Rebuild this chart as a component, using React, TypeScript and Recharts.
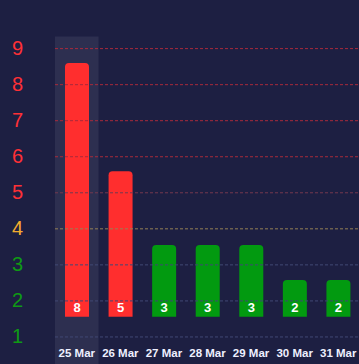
import React from "react";
import { BarChart, Bar, XAxis, YAxis, Tooltip, Cell, LabelList, ReferenceLine } from "recharts";

const days = ["25 Mar", "26 Mar", "27 Mar", "28 Mar", "29 Mar", "30 Mar", "31 Mar"];
const counts = [8, 5, 3, 3, 3, 2, 2];
const barTops = [8.6, 5.6, 3.55, 3.55, 3.55, 2.58, 2.58];
const barBases = [1.56, 1.56, 1.56, 1.56, 1.56, 1.56, 1.56];
const yTicks = [0, 1, 2, 3, 4, 5, 6, 7, 8, 9];

const RED = "#ff2e2e";
const GREEN = "#029a10";

const tickColor = (v: number) => (v >= 5 ? "#ff3036" : v === 4 ? "#f2ac2e" : "#0f9a14");
const gridColor = (v: number) =>
  v >= 6 ? "#a82a3c" : v === 5 ? "#74384f" : v === 4 ? "#958055" : "#414874";

const data = days.map((day, i) => ({
  day,
  count: counts[i],
  range: [barBases[i], barTops[i]],
}));

const YTick = (props: any) => {
  const v = Number(props.payload?.value);
  return (
    <text
      x={props.x}
      y={props.y + 6}
      textAnchor="end"
      fill={tickColor(v)}
      fontSize={20}
      fontFamily="Liberation Sans, Arial, sans-serif"
    >
      {v}
    </text>
  );
};

const XTick = (props: any) => (
  <text
    x={props.x}
    y={props.y - 16}
    textAnchor="middle"
    fill="#eef0ff"
    fontSize={11.5}
    fontWeight="bold"
    fontFamily="Liberation Sans, Arial, sans-serif"
  >
    {props.payload?.value}
  </text>
);

export default function App() {
  return (
    <div
      style={{
        position: "fixed",
        left: 0,
        top: 0,
        width: 359,
        height: 364,
        overflow: "hidden",
        background: "#1d1f42",
      }}
    >
      <BarChart
        width={360}
        height={400}
        data={data}
        margin={{ top: 36, right: 0, left: 0, bottom: 0 }}
      >
        <XAxis
          dataKey="day"
          height={27}
          tickSize={0}
          tickMargin={0}
          axisLine={false}
          tickLine={false}
          interval={0}
          tick={<XTick />}
        />
        <YAxis
          width={55}
          domain={[0, 9.35]}
          ticks={yTicks}
          interval={0}
          tickSize={0}
          tickMargin={32}
          axisLine={false}
          tickLine={false}
          tick={<YTick />}
        />
        {yTicks
          .filter((v) => v > 0)
          .map((v) => (
            <ReferenceLine key={v} y={v} stroke={gridColor(v)} strokeDasharray="3 2" />
          ))}
        <Tooltip
          defaultIndex={0}
          cursor={{ fill: "#2d2f50" }}
          content={() => null}
          isAnimationActive={false}
        />
        <Bar dataKey="range" barSize={24} radius={[4, 4, 0, 0]} isAnimationActive={false}>
          {data.map((d, i) => (
            <Cell key={i} fill={d.count >= 5 ? RED : GREEN} />
          ))}
          <LabelList
            dataKey="count"
            position="insideBottom"
            offset={5}
            fill="#ffffff"
            fontSize={13}
            fontWeight="bold"
            fontFamily="Liberation Sans, Arial, sans-serif"
          />
        </Bar>
      </BarChart>
    </div>
  );
}
